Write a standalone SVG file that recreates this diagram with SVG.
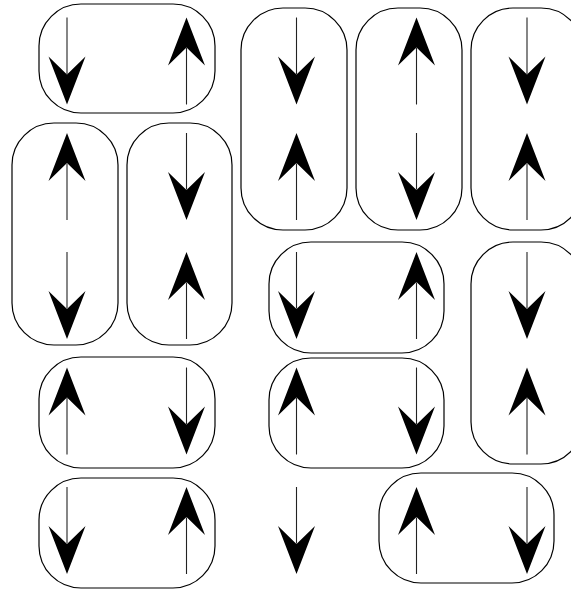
<svg xmlns="http://www.w3.org/2000/svg" xmlns:xlink="http://www.w3.org/1999/xlink" width="571" height="590" viewBox="0 0 571 590">
<style>
.box{fill:none;stroke:#000;stroke-width:1.2}
.shaft{stroke:#222;stroke-width:1.1}
.head{fill:#000;stroke:none}
</style>
<defs>
<g id="dn">
<line class="shaft" x1="0" y1="-43.5" x2="0" y2="13"/>
<polygon class="head" points="0,43.5 -18.5,-4.5 0,13.5 18.5,-4.5"/>
</g>
<g id="up">
<use xlink:href="#dn" href="#dn" transform="scale(1,-1)"/>
</g>
</defs>
<rect width="571" height="590" fill="#fff"/>
<g id="pair1">
<rect class="box" x="39" y="4" width="176" height="109" rx="42"/>
<use href="#dn" xlink:href="#dn" x="67" y="61"/>
<use href="#up" xlink:href="#up" transform="translate(186.5,61)"/>
</g>
<g id="pair2">
<rect class="box" x="12" y="123" width="106" height="222" rx="42"/>
<use href="#up" xlink:href="#up" transform="translate(67,176.5)"/>
<use href="#dn" xlink:href="#dn" x="67" y="295.5"/>
</g>
<g id="pair3">
<rect class="box" x="127" y="123" width="105" height="222" rx="42"/>
<use href="#dn" xlink:href="#dn" x="186.5" y="176.5"/>
<use href="#up" xlink:href="#up" transform="translate(186.5,295.5)"/>
</g>
<g id="pair4">
<rect class="box" x="39" y="357" width="176" height="111" rx="42"/>
<use href="#up" xlink:href="#up" transform="translate(67,411)"/>
<use href="#dn" xlink:href="#dn" x="186.5" y="411"/>
</g>
<g id="pair5">
<rect class="box" x="39" y="478" width="176" height="110" rx="42"/>
<use href="#dn" xlink:href="#dn" x="67" y="530.5"/>
<use href="#up" xlink:href="#up" transform="translate(186.5,530.5)"/>
</g>
<g id="pair6">
<rect class="box" x="241" y="8" width="106" height="222" rx="42"/>
<use href="#dn" xlink:href="#dn" x="296.5" y="61"/>
<use href="#up" xlink:href="#up" transform="translate(296.5,176.5)"/>
</g>
<g id="pair7">
<rect class="box" x="356" y="8" width="106" height="222" rx="42"/>
<use href="#up" xlink:href="#up" transform="translate(416.5,61)"/>
<use href="#dn" xlink:href="#dn" x="416.5" y="176.5"/>
</g>
<g id="pair8">
<rect class="box" x="471" y="8" width="112" height="222" rx="42"/>
<use href="#dn" xlink:href="#dn" x="527" y="61"/>
<use href="#up" xlink:href="#up" transform="translate(527,176.5)"/>
</g>
<g id="pair9">
<rect class="box" x="269" y="242" width="175" height="111" rx="42"/>
<use href="#dn" xlink:href="#dn" x="296.5" y="295.5"/>
<use href="#up" xlink:href="#up" transform="translate(416.5,295.5)"/>
</g>
<g id="pair10">
<rect class="box" x="269" y="358" width="175" height="110" rx="42"/>
<use href="#up" xlink:href="#up" transform="translate(296.5,411)"/>
<use href="#dn" xlink:href="#dn" x="416.5" y="411"/>
</g>
<g id="pair11">
<rect class="box" x="471" y="242" width="112" height="222" rx="42"/>
<use href="#dn" xlink:href="#dn" x="527" y="295.5"/>
<use href="#up" xlink:href="#up" transform="translate(527,411)"/>
</g>
<g id="pair12">
<rect class="box" x="379" y="473" width="175" height="110" rx="42"/>
<use href="#up" xlink:href="#up" transform="translate(416.5,530.5)"/>
<use href="#dn" xlink:href="#dn" x="527" y="530.5"/>
</g>
<g id="single1">
<use href="#dn" xlink:href="#dn" x="296.5" y="530.5"/>
</g>
<g id="connectors"/>
</svg>
